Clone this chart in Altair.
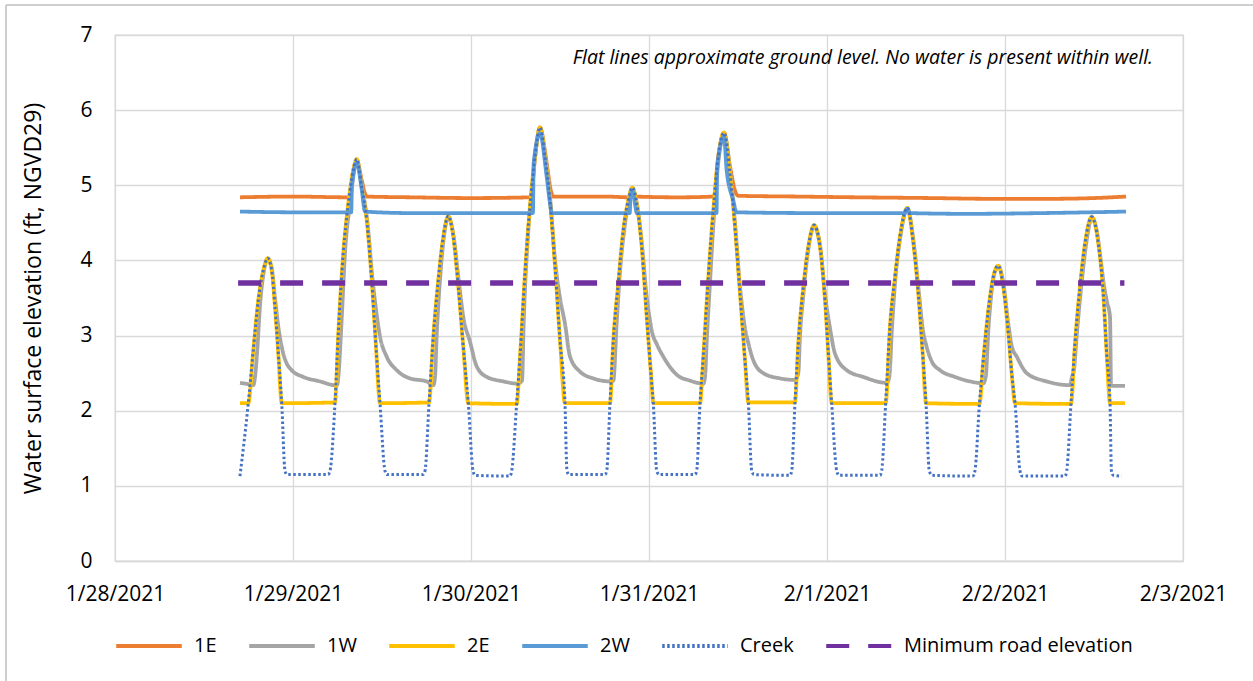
import altair as alt
import pandas as pd

# ---------------- data (hours after 2021-01-28 00:00, elevation ft) ----------------
SERIES = ["1E", "1W", "2E", "2W", "Creek", "Minimum road elevation"]

e1_hours = [16.85, 24.0, 31.55, 32.13, 32.59, 33.26, 33.71, 33.94, 40.0, 48.0, 56.05, 56.63, 57.30,
            57.98, 58.21, 58.88, 59.10, 66.0, 69.45, 69.75, 70.15, 76.0, 80.75, 81.34, 82.11, 82.92,
            83.70, 84.04, 92.0, 100.0, 110.0, 118.0, 126.0, 132.0, 136.32]
e1_values = [4.84, 4.85, 4.84, 5.20, 5.33, 5.07, 4.89, 4.85, 4.84, 4.83, 4.84, 5.38, 5.77,
             5.45, 5.29, 4.89, 4.85, 4.85, 4.84, 4.96, 4.85, 4.84, 4.85, 5.38, 5.70, 5.25,
             4.90, 4.86, 4.85, 4.84, 4.83, 4.82, 4.82, 4.83, 4.85]

w1_hours = [16.85, 18.20, 18.65, 18.88, 19.19, 19.55, 20.00, 20.59, 21.13, 21.57, 22.02, 22.69, 23.15,
            23.82, 25.39, 27.64, 29.66,
            29.95, 30.11, 30.56, 31.01, 31.69, 32.36, 32.59, 33.30, 34.04, 34.72, 35.19, 35.73, 36.63,
            37.98, 39.77, 42.03, 42.92,
            43.15, 43.37, 43.82, 44.27, 44.94, 45.61, 46.29, 46.96, 47.86, 48.77, 50.12, 52.36, 54.27,
            54.88, 55.10, 55.64, 56.27, 57.30, 57.98, 58.65, 59.33, 60.00, 60.67, 61.35, 62.70, 64.49, 66.74,
            67.19, 67.64, 68.09, 68.76, 69.75, 70.38, 71.06, 71.60, 72.13, 72.36, 73.08, 73.93, 75.73,
            77.53, 79.32,
            79.55, 79.82, 80.22, 80.76, 81.34, 82.11, 82.92, 83.59, 84.27, 84.94, 85.39, 86.07, 87.41,
            89.66, 91.68,
            92.13, 92.36, 92.77, 93.48, 94.25, 95.06, 95.73, 96.40, 97.08, 98.65, 100.89, 104.05,
            104.40, 104.76, 105.17, 105.84, 106.83, 107.64, 108.31, 108.90, 109.44, 110.16, 111.23,
            113.26, 115.28, 117.07,
            117.40, 117.77, 118.10, 118.64, 119.10, 119.77, 120.45, 120.94, 121.58, 122.93, 125.62, 128.76,
            129.03, 129.30, 129.71, 130.38, 131.06, 131.69, 132.40, 132.85, 133.30, 133.75, 134.16,
            134.30, 136.18]
w1_values = [2.37, 2.35, 2.34, 2.45, 2.82, 3.40, 3.81, 4.02, 3.90, 3.50, 3.12, 2.76, 2.63,
             2.54, 2.45, 2.39, 2.34,
             2.34, 2.45, 3.21, 4.10, 4.76, 5.25, 5.33, 4.98, 4.50, 3.75, 3.35, 2.99, 2.72,
             2.54, 2.43, 2.39, 2.34,
             2.45, 2.99, 3.74, 4.25, 4.57, 4.35, 3.78, 3.25, 2.92, 2.59, 2.45, 2.39, 2.36,
             2.40, 3.16, 4.27, 5.00, 5.75, 5.40, 4.85, 4.00, 3.50, 3.16, 2.72, 2.52, 2.43, 2.39,
             2.40, 3.16, 3.85, 4.48, 4.95, 4.75, 4.20, 3.60, 3.20, 3.07, 2.88, 2.72, 2.48,
             2.40, 2.36,
             2.45, 3.00, 3.70, 4.60, 5.30, 5.68, 5.20, 4.50, 3.65, 3.10, 2.90, 2.67, 2.50,
             2.43, 2.41,
             2.50, 3.00, 3.50, 4.15, 4.45, 4.20, 3.55, 3.10, 2.76, 2.54, 2.45, 2.37,
             2.45, 3.10, 3.70, 4.28, 4.68, 4.28, 3.65, 3.10, 2.85, 2.65, 2.54,
             2.45, 2.39, 2.365,
             2.45, 3.10, 3.50, 3.85, 3.92, 3.70, 3.15, 2.85, 2.72, 2.50, 2.39, 2.34,
             2.45, 2.55, 3.05, 3.75, 4.30, 4.57, 4.38, 4.05, 3.70, 3.45, 3.25,
             2.33, 2.33]

e2_hours = [16.85, 17.97, 18.65, 19.32, 20.00, 20.59, 21.13, 21.57, 22.02, 22.48,
            29.66, 30.11, 30.78, 31.46, 32.13, 32.59, 33.26, 33.94, 34.61, 35.19, 35.73,
            42.34, 42.92, 43.59, 44.27, 44.94, 45.61, 46.29, 46.96, 47.64,
            54.16, 54.61, 55.28, 55.95, 56.63, 57.30, 57.98, 58.65, 59.33, 60.00, 60.67,
            66.74, 67.19, 67.86, 68.54, 69.21, 69.75, 70.34, 71.02, 71.69, 72.36, 72.58,
            78.88, 79.32, 80.00, 80.67, 81.34, 82.11, 82.92, 83.59, 84.27, 84.94, 85.39,
            91.68, 92.13, 92.81, 93.48, 94.25, 95.06, 95.73, 96.18, 96.63,
            103.91, 104.49, 105.17, 105.84, 106.83, 107.64, 108.31, 108.90, 109.35,
            116.56, 117.07, 117.75, 118.42, 119.10, 119.77, 120.45, 120.90, 121.35,
            128.90, 129.44, 130.11, 130.79, 131.69, 132.58, 133.25, 133.71, 134.16, 136.18]
e2_values = [2.10, 2.10, 2.81, 3.47, 3.87, 4.03, 3.87, 3.38, 2.76, 2.10,
             2.11, 3.03, 4.10, 4.76, 5.20, 5.35, 4.98, 4.54, 3.74, 2.85, 2.10,
             2.11, 2.99, 3.74, 4.32, 4.59, 4.32, 3.65, 2.85, 2.10,
             2.09, 2.72, 3.83, 4.72, 5.38, 5.77, 5.38, 4.80, 3.92, 2.94, 2.10,
             2.10, 2.94, 3.70, 4.41, 4.80, 4.97, 4.76, 4.18, 3.25, 2.37, 2.10,
             2.10, 2.72, 3.78, 4.67, 5.38, 5.70, 5.16, 4.45, 3.56, 2.67, 2.11,
             2.11, 2.90, 3.65, 4.18, 4.47, 4.18, 3.47, 2.76, 2.10,
             2.10, 3.12, 3.78, 4.32, 4.70, 4.23, 3.56, 2.76, 2.10,
             2.09, 2.67, 3.34, 3.78, 3.93, 3.65, 3.03, 2.50, 2.10,
             2.09, 2.90, 3.65, 4.23, 4.58, 4.23, 3.56, 2.76, 2.10, 2.10]

w2_hours = [16.85, 25.0, 31.85, 31.95, 32.59, 33.26, 33.71, 40.0, 50.0, 56.35, 56.45, 57.30, 58.21,
            58.65, 58.88, 65.0, 69.40, 69.50, 69.75, 70.20, 70.34, 76.0, 81.10, 81.20, 82.11, 82.47,
            83.36, 83.82, 95.0, 106.5, 106.83, 107.2, 115.0, 125.0, 136.32]
w2_values = [4.65, 4.64, 4.64, 5.00, 5.30, 4.95, 4.65, 4.63, 4.63, 4.63, 5.30, 5.69, 5.11,
             4.76, 4.63, 4.63, 4.63, 4.85, 4.93, 4.70, 4.63, 4.63, 4.63, 5.25, 5.65, 5.20,
             4.80, 4.64, 4.63, 4.63, 4.69, 4.63, 4.62, 4.63, 4.65]

creek_hours = [16.85, 17.97, 18.65, 19.32, 20.00, 20.59, 21.13, 21.57, 22.02, 22.48, 22.92, 23.19,
               28.72, 28.99, 29.66, 30.11, 30.78, 31.46, 32.13, 32.59, 33.26, 33.94, 34.61, 35.19,
               35.73, 36.40, 36.67,
               41.53, 41.80, 42.34, 42.92, 43.59, 44.27, 44.94, 45.61, 46.29, 46.96, 47.64, 48.27, 48.54,
               53.26, 53.49, 54.16, 54.61, 55.28, 55.95, 56.63, 57.30, 57.98, 58.65, 59.33, 60.00,
               60.67, 60.94, 61.21,
               66.07, 66.30, 66.74, 67.19, 67.86, 68.54, 69.21, 69.75, 70.34, 71.02, 71.69, 72.36,
               72.58, 73.04, 73.35,
               78.20, 78.43, 78.88, 79.32, 80.00, 80.67, 81.34, 82.11, 82.92, 83.59, 84.27, 84.94,
               85.39, 85.85, 86.16,
               91.01, 91.24, 91.68, 92.13, 92.81, 93.48, 94.25, 95.06, 95.73, 96.18, 96.63, 97.31, 97.62,
               103.14, 103.37, 103.91, 104.49, 105.17, 105.84, 106.83, 107.64, 108.31, 108.90, 109.35,
               109.79, 110.16,
               115.68, 115.95, 116.56, 117.07, 117.75, 118.42, 119.10, 119.77, 120.45, 120.90, 121.35,
               122.02, 122.29,
               128.09, 128.32, 128.90, 129.44, 130.11, 130.79, 131.69, 132.58, 133.25, 133.71, 134.16,
               134.35, 134.60, 135.73]
creek_values = [1.13, 2.10, 2.81, 3.47, 3.87, 4.03, 3.87, 3.38, 2.76, 2.10, 1.20, 1.15,
                1.15, 1.20, 2.10, 3.03, 4.10, 4.76, 5.20, 5.35, 4.98, 4.54, 3.74, 2.85,
                2.10, 1.20, 1.15,
                1.15, 1.20, 2.10, 2.99, 3.74, 4.32, 4.59, 4.32, 3.65, 2.85, 2.10, 1.20, 1.14,
                1.13, 1.20, 2.10, 2.72, 3.83, 4.72, 5.38, 5.77, 5.38, 4.80, 3.92, 2.94,
                2.10, 1.20, 1.15,
                1.15, 1.20, 2.10, 2.94, 3.70, 4.41, 4.80, 4.97, 4.76, 4.18, 3.25, 2.37,
                2.10, 1.20, 1.15,
                1.15, 1.20, 2.10, 2.72, 3.78, 4.67, 5.38, 5.70, 5.16, 4.45, 3.56, 2.67,
                2.12, 1.20, 1.15,
                1.14, 1.20, 2.10, 2.90, 3.65, 4.18, 4.47, 4.18, 3.47, 2.76, 2.10, 1.20, 1.14,
                1.14, 1.20, 2.10, 3.12, 3.78, 4.32, 4.70, 4.23, 3.56, 2.76, 2.10,
                1.20, 1.14,
                1.13, 1.20, 2.10, 2.67, 3.34, 3.78, 3.93, 3.65, 3.03, 2.50, 2.10,
                1.20, 1.13,
                1.13, 1.20, 2.10, 2.90, 3.65, 4.23, 4.58, 4.23, 3.56, 2.76, 2.10,
                1.20, 1.14, 1.13]

road_hours = [16.6, 136.1]
road_values = [3.70, 3.70]

DAY_TICKS = ["2021-01-28", "2021-01-29", "2021-01-30", "2021-01-31", "2021-02-01", "2021-02-02", "2021-02-03"]
Y_TICKS = [0, 1, 2, 3, 4, 5, 6, 7]
NOTE = "Flat lines approximate ground level. No water is present within well."
Y_TITLE = "Water surface elevation (ft, NGVD29)"

# ---------------- table ----------------
base = pd.Timestamp("2021-01-28")
frames = []
for name, hrs, vals in [("1E", e1_hours, e1_values), ("1W", w1_hours, w1_values),
                        ("2E", e2_hours, e2_values), ("2W", w2_hours, w2_values),
                        ("Creek", creek_hours, creek_values),
                        ("Minimum road elevation", road_hours, road_values)]:
    t = base + pd.to_timedelta(pd.Series(hrs), unit="h")
    frames.append(pd.DataFrame({"series": name,
                                "time": t.dt.strftime("%Y-%m-%dT%H:%M:%S"),
                                "value": vals}))
df = pd.concat(frames, ignore_index=True)

FONT = "Open Sans"


def dt(s):
    ts = pd.Timestamp(s)
    return alt.DateTime(year=ts.year, month=ts.month, date=ts.day)


x_scale = alt.Scale(domain=[dt(DAY_TICKS[0]), dt(DAY_TICKS[-1])])
y_scale = alt.Scale(domain=[0, 7], nice=False)
color_scale = alt.Scale(domain=SERIES,
                        range=["#ED7D31", "#A5A5A5", "#FFC000", "#5B9BD5", "#4472C4", "#7030A0"])
dash_scale = alt.Scale(domain=SERIES,
                       range=[[1, 0], [1, 0], [1, 0], [1, 0], [2.5, 2.5], [23, 19]])

legend = alt.Legend(orient="none", legendX=-1, legendY=576, direction="horizontal", columns=6,
                    symbolType="stroke", symbolSize=4300, symbolStrokeWidth=3.8,
                    labelFontSize=20, labelFont=FONT, labelColor="#000000", labelOffset=10,
                    labelLimit=400, columnPadding=24, padding=0, title=None)

x_axis = alt.Axis(values=[dt(d) for d in DAY_TICKS], format="%-m/%-d/%Y", labelFlush=False,
                  labelOverlap=False, tickSize=0, labelPadding=22, labelFontSize=21, title=None)
y_axis = alt.Axis(values=Y_TICKS, ticks=False, labelPadding=23, labelAlign="right",
                  labelFontSize=21, domainOpacity=0,
                  title=Y_TITLE, titleFontSize=23, titlePadding=34)

widths = {"1E": 3.8, "1W": 3.8, "2E": 3.8, "2W": 3.8, "Creek": 3.0, "Minimum road elevation": 5.5}


def series_layer(name):
    return alt.Chart(df).transform_filter(alt.datum.series == name).mark_line(
        strokeWidth=widths[name], interpolate="monotone", strokeCap="butt"
    ).encode(
        x=alt.X("time:T", scale=x_scale, axis=x_axis),
        y=alt.Y("value:Q", scale=y_scale, axis=y_axis),
        color=alt.Color("series:N", scale=color_scale, legend=legend),
        strokeDash=alt.StrokeDash("series:N", scale=dash_scale, legend=legend),
    )


one = pd.DataFrame({"a": [0]})
border_left = alt.Chart(one).mark_rule(color="#BFBFBF", strokeWidth=1.5).encode(
    x=alt.value(-109), y=alt.value(-30), y2=alt.value(700))
border_top = alt.Chart(one).mark_rule(color="#BFBFBF", strokeWidth=1.5).encode(
    x=alt.value(-109), x2=alt.value(1300), y=alt.value(-30))
note = alt.Chart(one).mark_text(align="right", baseline="middle", font=FONT, fontSize=19.5,
                                fontStyle="italic", color="#000000").encode(
    x=alt.value(1038), y=alt.value(23), text=alt.value(NOTE))

chart = alt.layer(
    border_left, border_top,
    *[series_layer(s) for s in SERIES],
    note,
).properties(
    width=1068, height=526,
    autosize=alt.AutoSizeParams(type="none"),
    padding={"left": 115, "top": 35, "right": 70, "bottom": 120},
    background="white",
).configure_view(
    stroke="#D9D9D9", strokeWidth=1.3
).configure_axis(
    labelFont=FONT, labelColor="#000000",
    titleFont=FONT, titleFontWeight="normal", titleColor="#000000",
    gridColor="#D9D9D9", gridWidth=1.3, domainColor="#D9D9D9", domainWidth=1.3,
)

chart.save("out.html", embed_options={"renderer": "svg", "actions": False})
